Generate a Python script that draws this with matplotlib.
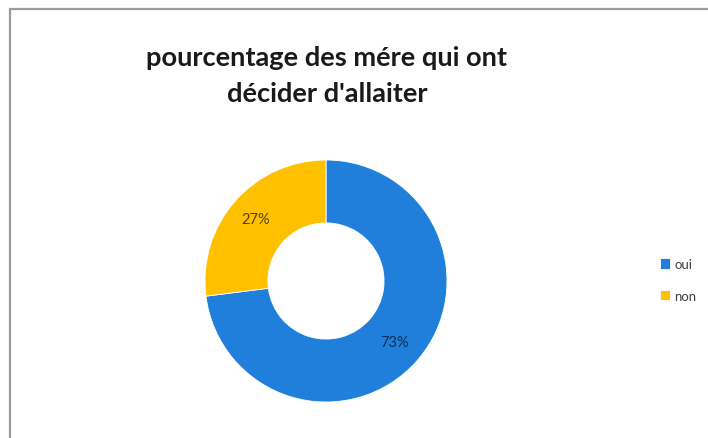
import matplotlib
matplotlib.use("Agg")
import matplotlib.pyplot as plt
from matplotlib.patches import Rectangle
import numpy as np

categories = ["oui", "non"]
values = [73, 27]
colors = ["#1F7FDA", "#FFC000"]
label_colors = ["#0D2F5E", "#5A4000"]

W, H = 708, 439
fig = plt.figure(figsize=(W / 100, H / 100), dpi=100)
fig.patch.set_facecolor("white")

# chart area frame
fig.add_artist(Rectangle((10 / W, -0.05), 1.2, 1 - 10 / H + 0.05,
                         transform=fig.transFigure, fill=False,
                         edgecolor="#9a9a9a", linewidth=1.6))

cx, cy, r = 326, 282, 121
ax = fig.add_axes([(cx - r) / W, 1 - (cy + r) / H, 2 * r / W, 2 * r / H])
wedges, _ = ax.pie(values, colors=colors, startangle=90, counterclock=False,
                   radius=1.0, wedgeprops=dict(width=0.52, edgecolor="white",
                                               linewidth=0.6))
ax.set_xlim(-1, 1)
ax.set_ylim(-1, 1)
ax.set_aspect("equal")
ax.axis("off")

# value labels
for v, col, w in zip(values, label_colors, wedges):
    mid = np.deg2rad((w.theta1 + w.theta2) / 2)
    rr = 0.78 if v < 50 else 0.76
    ax.text(rr * np.cos(mid), rr * np.sin(mid), f"{v}%", ha="center",
            va="center", fontsize=10.5, color=col, family="Lato")

fig.text(327 / W, 1 - 76 / H, "pourcentage des mére qui ont\ndécider d'allaiter",
         ha="center", va="center", fontsize=19.6, fontweight="bold",
         family="Lato", color="#1a1a1a", linespacing=1.6)

leg = fig.legend(wedges, categories, loc="center left",
                 bbox_to_anchor=(648 / W, 1 - 281 / H), frameon=False,
                 handlelength=0.8, handleheight=0.8,
                 handletextpad=0.3, labelspacing=1.5,
                 prop={"family": "Lato", "size": 9.5})
for t in leg.get_texts():
    t.set_color("#404040")

fig.savefig("out.png", dpi=100)
